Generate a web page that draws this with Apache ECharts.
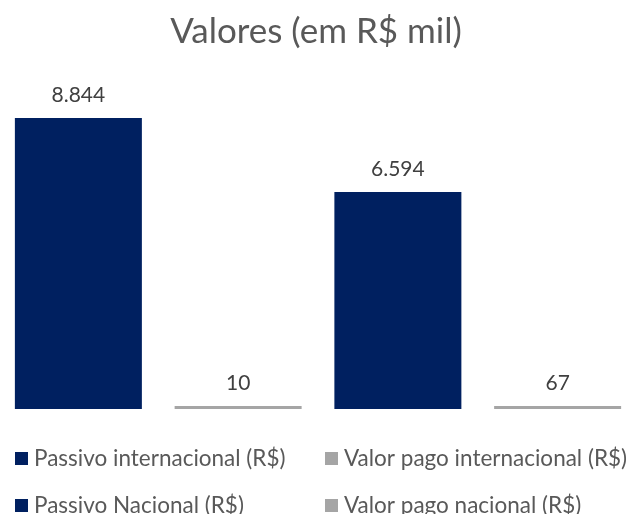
<!DOCTYPE html>
<html><head><meta charset="utf-8">
<script src="https://cdn.jsdelivr.net/npm/echarts@6/dist/echarts.min.js"></script>
<style>html,body{margin:0;padding:0;background:#fff}#c{width:632px;height:514px}</style>
</head><body><div id="c"></div>
<script>
const categories = ['Passivo internacional (R$)', 'Valor pago internacional (R$)', 'Passivo Nacional (R$)', 'Valor pago nacional (R$)'];
const values = [8844, 10, 6594, 67];
const colors = ['#002060', '#A5A5A5', '#002060', '#A5A5A5'];
const titleText = 'Valores (em R$ mil)';

const fmt = v => v.toLocaleString('pt-BR');
const FONT = 'Lato';

const series = categories.map((name, i) => ({
  name: name,
  type: 'bar',
  stack: 'all',
  barWidth: 127,
  barMinHeight: colors[i] === '#A5A5A5' ? 3 : 0,
  itemStyle: { color: colors[i] },
  label: {
    show: true, position: 'top', distance: 12,
    color: '#404040', fontFamily: FONT, fontSize: 21,
    formatter: p => fmt(p.value)
  },
  data: categories.map((c, j) => j === i ? values[i] : '-')
}));

const legendBase = {
  orient: 'vertical', top: 442, height: 120, itemGap: 24,
  itemWidth: 13, itemHeight: 13, icon: 'rect',
  textStyle: { color: '#595959', fontFamily: FONT, fontSize: 22.5, padding: [0, 0, 0, 1] }
};

const chart = echarts.init(document.getElementById('c'));
chart.setOption({
  animation: false,
  title: {
    text: titleText, left: 'center', top: 9,
    textStyle: { color: '#595959', fontFamily: FONT, fontWeight: 'normal', fontSize: 35 }
  },
  legend: [
    Object.assign({}, legendBase, { data: [categories[0], categories[2]], left: 10 }),
    Object.assign({}, legendBase, { data: [categories[1], categories[3]], left: 320 })
  ],
  grid: { left: -1.5, width: 639, top: 80, bottom: 105, containLabel: false, outerBoundsMode: 'none' },
  xAxis: {
    type: 'category', data: categories,
    axisLine: { show: false }, axisTick: { show: false }, axisLabel: { show: false }
  },
  yAxis: {
    type: 'value', min: 0, max: 10000,
    axisLine: { show: false }, axisTick: { show: false }, axisLabel: { show: false },
    splitLine: { show: false }
  },
  series: series
});
</script></body></html>
